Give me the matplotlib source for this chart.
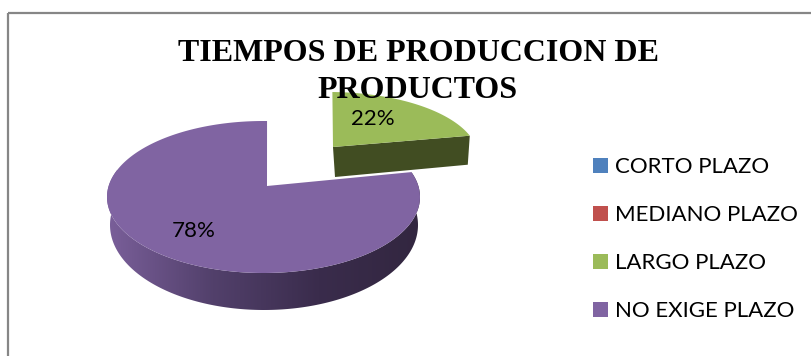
import matplotlib
matplotlib.use('Agg')
import matplotlib.pyplot as plt
import numpy as np
from matplotlib.colors import LinearSegmentedColormap
from matplotlib.patches import Patch, Polygon, Rectangle

title = 'TIEMPOS DE PRODUCCION DE\nPRODUCTOS'
categories = ['CORTO PLAZO', 'MEDIANO PLAZO', 'LARGO PLAZO', 'NO EXIGE PLAZO']
shares = [0, 0, 22, 78]
colors = ['#4f81bd', '#c0504d', '#9bbb59', '#8064a2']

W, H = 811, 356


def view_angle(pct):
    # the tilted view squeezes the angles on the right hand side a little
    theta = np.radians(np.asarray(pct) * 3.6)
    return theta + np.radians(1.3) - np.radians(9.8) * np.sin(theta)


def arc(start, stop, cx, cy, rx, ry, n=200):
    t = np.linspace(view_angle(start), view_angle(stop), n)
    return np.column_stack([cx + rx * np.sin(t), cy - ry * np.cos(t)])


fig = plt.figure(figsize=(W / 100, H / 100), dpi=100)
ax = fig.add_axes([0, 0, 1, 1])

# chart frame
ax.add_patch(Rectangle((8, 13), W + 20, H + 20, fill=False, ec='#868686', lw=1.6))

# green slice, pulled out of the pie
green_start, green_stop = 0, shares[2]
green_arc = arc(green_start, green_stop, 329, 157, 149, 65)
green_apex = np.array([333, 147])
side = np.array([green_apex, green_arc[-1], green_arc[-1] + [-2, 29], green_apex + [2, 30]])
ax.add_patch(Polygon(side, fc='#414d22', ec='none'))
ax.add_patch(Polygon(np.vstack([green_apex, green_arc]), fc=colors[2], ec='none'))

# purple slice, side wall first with a left to right shade
purple_start, purple_stop = shares[2], shares[2] + shares[3]
top_ring = (263.5, 197, 156.5, 76)
low_ring = (264, 225, 154, 85)
wall_stop = purple_start + 0.79 * shares[3]
upper = arc(purple_start, wall_stop, *top_ring, n=240)
lower = arc(purple_start, wall_stop, *low_ring, n=240)
wall = Polygon(np.vstack([upper, lower[::-1]]), fc='none', ec='none')
ax.add_patch(wall)
shade = LinearSegmentedColormap.from_list('wall', ['#7a5f9a', '#52406b', '#3a2c4c', '#32263f'])
im = ax.imshow(np.linspace(0, 1, 256)[None, :], cmap=shade, extent=(107, 425, 315, 170), aspect='auto', zorder=1)
im.set_clip_path(wall)
purple_apex = np.array([267, 186])
purple_arc = arc(purple_start, purple_stop, *top_ring, n=400)
ax.add_patch(Polygon(np.vstack([purple_apex, purple_arc]), fc=colors[3], ec='none', zorder=1.5))

ax.text(418, 53.5, title.split('\n')[0], family='Liberation Serif', weight='bold', fontsize=23,
        ha='center', va='center', color='black', zorder=3)
ax.text(418, 90, title.split('\n')[1], family='Liberation Serif', weight='bold', fontsize=23,
        ha='center', va='center', color='black', zorder=3)
ax.text(373, 119, f'{shares[2]}%', family='Lato', fontsize=16, ha='center', va='center', zorder=3)
ax.text(194, 231, f'{shares[3]}%', family='Lato', fontsize=16, ha='center', va='center', zorder=3)

handles = [Patch(fc=c, ec='none', label=n) for c, n in zip(colors, categories)]
ax.legend(handles=handles, loc='upper left', bbox_to_anchor=(593 / W, 1 - 157 / H), frameon=False,
          prop={'family': 'Lato', 'size': 16}, handlelength=0.68, handleheight=0.68,
          handletextpad=0.31, labelspacing=1.26, borderpad=0, borderaxespad=0)

ax.set_xlim(0, W)
ax.set_ylim(H, 0)
ax.axis('off')

fig.savefig('out.png', dpi=100)
